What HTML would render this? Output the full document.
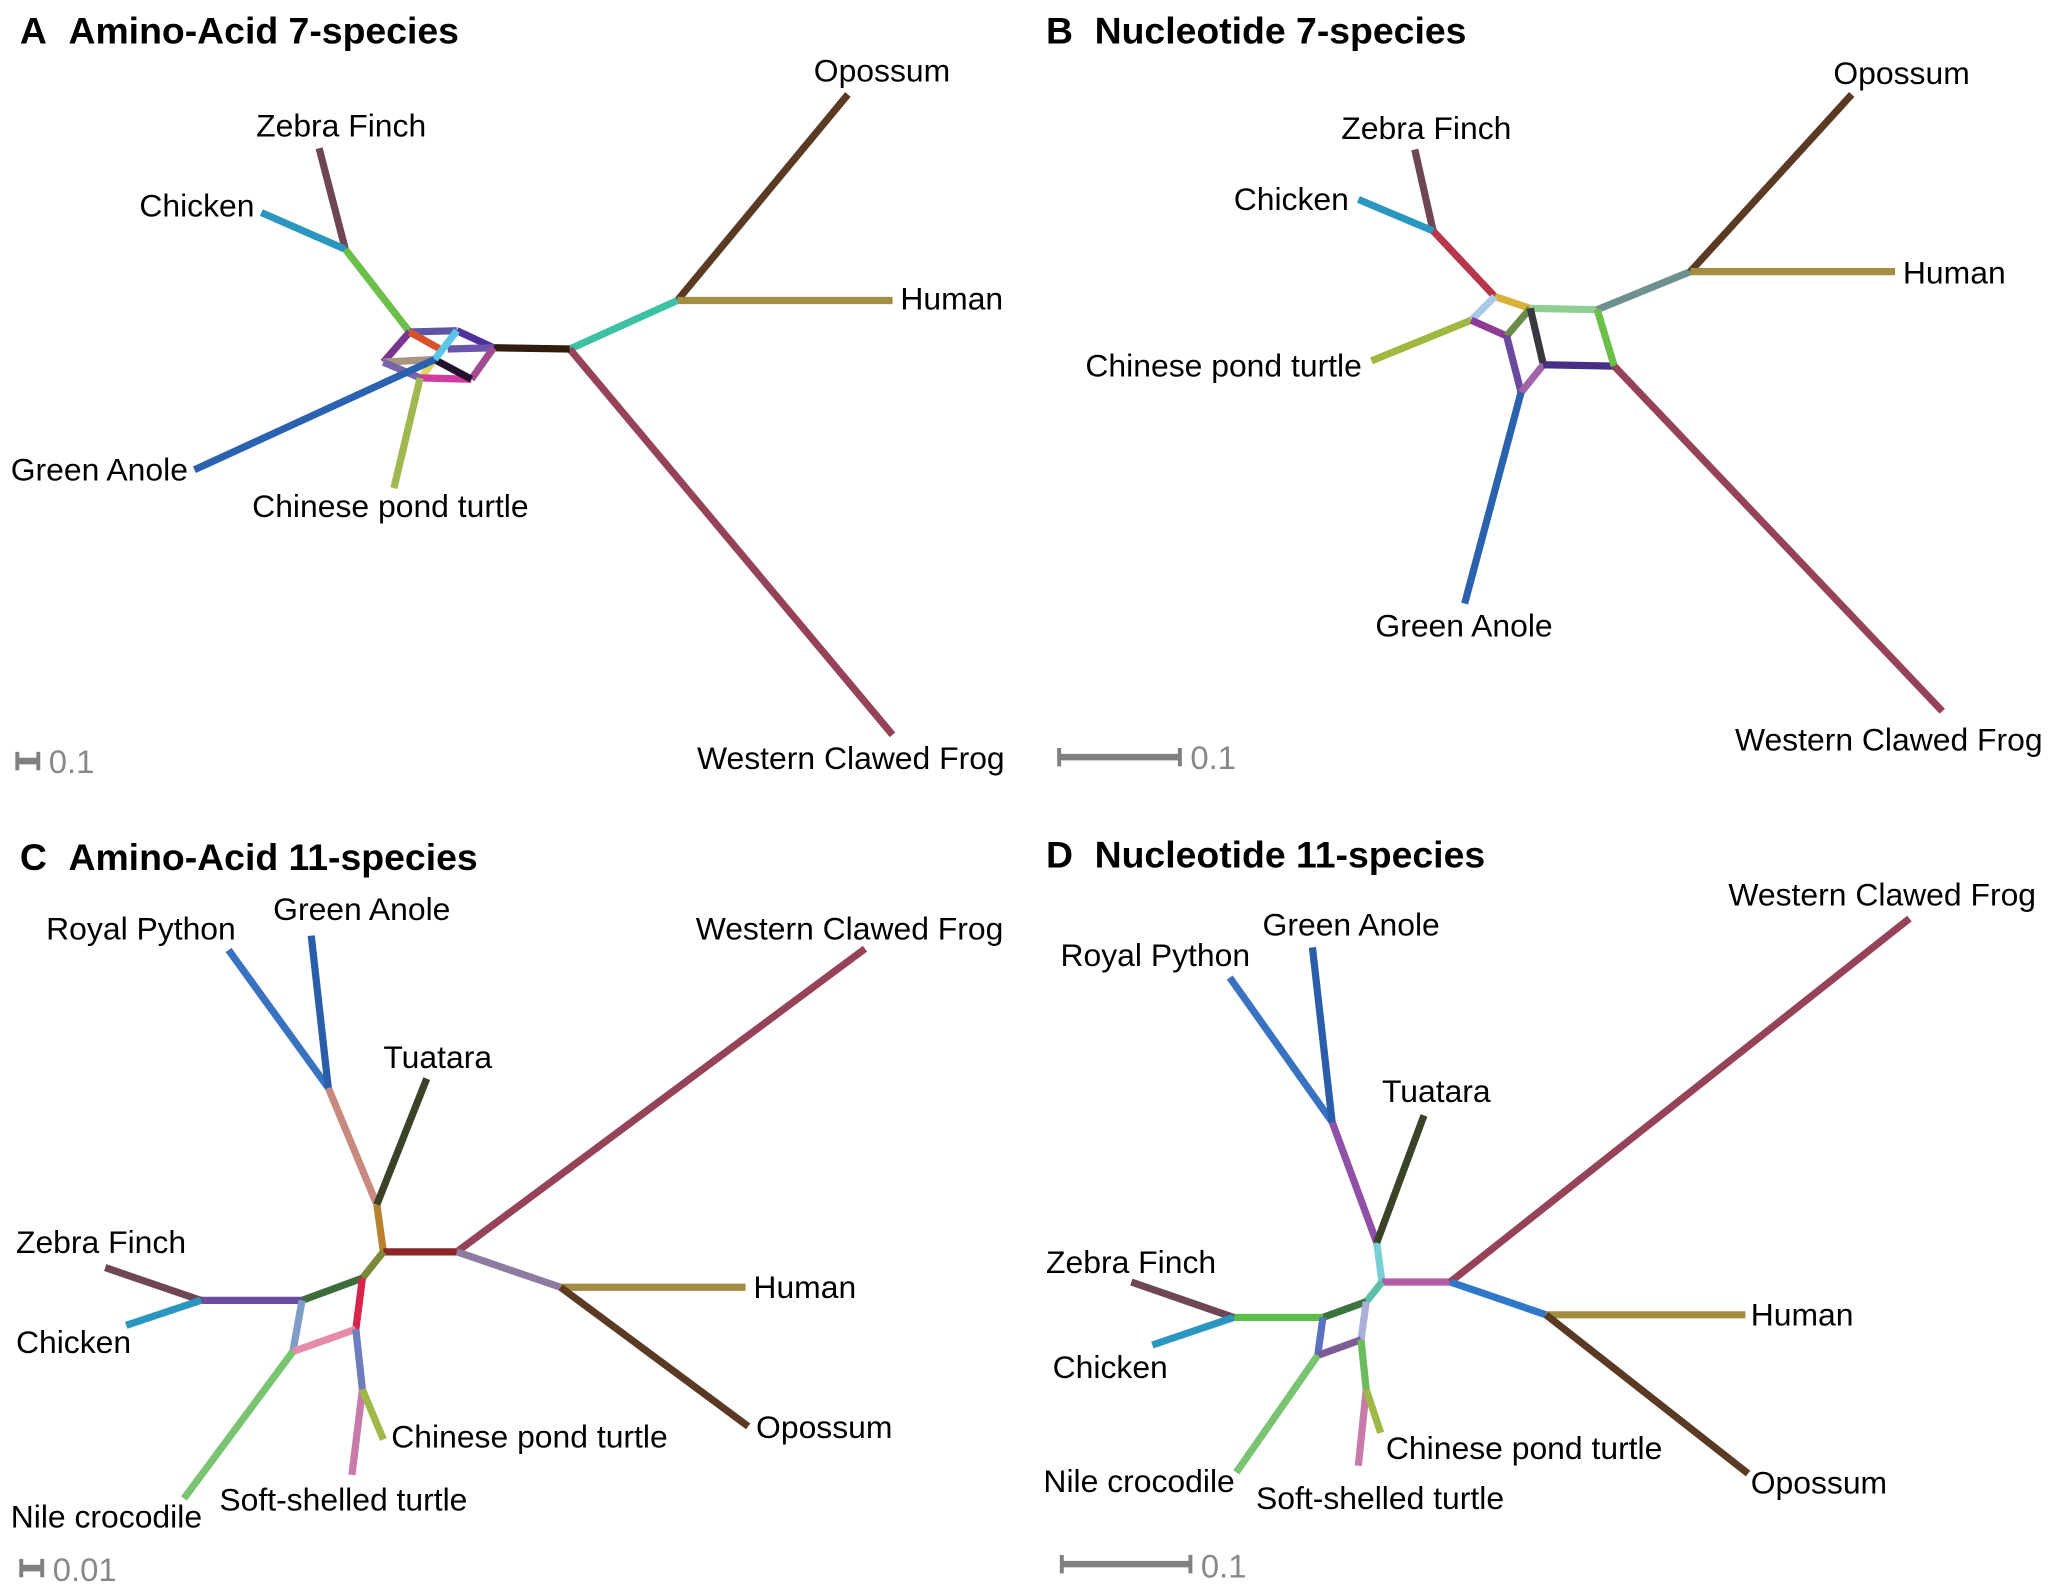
<!DOCTYPE html>
<html><head><meta charset="utf-8"><style>
html,body{margin:0;padding:0;background:#fff}
svg{display:block}
text{font-family:"Liberation Sans",Arial,sans-serif;fill:#000}
.t{font-weight:bold;font-size:28.5px}
.l{font-size:24.3px}
.s{font-size:25px;fill:#888}
</style></head><body>
<svg id="svg" width="2058" height="1593" viewBox="0 0 1568 1214" xmlns="http://www.w3.org/2000/svg">
<g id="edges"></g>
<g><text class="t" x="15" y="33">A</text><text class="t" x="52" y="33">Amino-Acid 7-species</text></g>
<g><text class="t" x="797" y="33">B</text><text class="t" x="834" y="33">Nucleotide 7-species</text></g>
<g><text class="t" x="15" y="663">C</text><text class="t" x="52" y="663">Amino-Acid 11-species</text></g>
<g><text class="t" x="797" y="661">D</text><text class="t" x="834" y="661">Nucleotide 11-species</text></g>
<g>
<text class="l" x="195" y="104">Zebra Finch</text><text class="l" x="106" y="165">Chicken</text>
<text class="l" x="620" y="62">Opossum</text><text class="l" x="686" y="236">Human</text>
<text class="l" x="8" y="366">Green Anole</text><text class="l" x="192" y="394">Chinese pond turtle</text>
<text class="l" x="531" y="586">Western Clawed Frog</text></g>
<g>
<text class="l" x="1022" y="106">Zebra Finch</text><text class="l" x="940" y="160">Chicken</text>
<text class="l" x="1397" y="64">Opossum</text><text class="l" x="1450" y="216">Human</text>
<text class="l" x="827" y="287">Chinese pond turtle</text><text class="l" x="1048" y="485">Green Anole</text>
<text class="l" x="1322" y="572">Western Clawed Frog</text></g>
<g>
<text class="l" x="35" y="716">Royal Python</text><text class="l" x="208" y="701">Green Anole</text>
<text class="l" x="292" y="814">Tuatara</text><text class="l" x="530" y="716">Western Clawed Frog</text>
<text class="l" x="12" y="955">Zebra Finch</text><text class="l" x="12" y="1031">Chicken</text>
<text class="l" x="574" y="989">Human</text><text class="l" x="298" y="1103">Chinese pond turtle</text>
<text class="l" x="576" y="1096">Opossum</text><text class="l" x="8" y="1164">Nile crocodile</text>
<text class="l" x="167" y="1151">Soft-shelled turtle</text></g>
<g>
<text class="l" x="962" y="713">Green Anole</text><text class="l" x="808" y="736">Royal Python</text>
<text class="l" x="1053" y="840">Tuatara</text><text class="l" x="1317" y="690">Western Clawed Frog</text>
<text class="l" x="797" y="970">Zebra Finch</text><text class="l" x="802" y="1050">Chicken</text>
<text class="l" x="1334" y="1010">Human</text><text class="l" x="1056" y="1112">Chinese pond turtle</text>
<text class="l" x="1334" y="1138">Opossum</text><text class="l" x="795" y="1137">Nile crocodile</text>
<text class="l" x="957" y="1150">Soft-shelled turtle</text></g>
<g stroke="#808080" stroke-width="5">
<line x1="13" y1="580" x2="29" y2="580"/><line x1="13" y1="573" x2="13" y2="587" stroke-width="3"/><line x1="29" y1="573" x2="29" y2="587" stroke-width="3"/>
<line x1="807" y1="577" x2="899" y2="577"/><line x1="807" y1="570" x2="807" y2="584" stroke-width="3"/><line x1="899" y1="570" x2="899" y2="584" stroke-width="3"/>
<line x1="16" y1="1195" x2="32" y2="1195"/><line x1="16" y1="1188" x2="16" y2="1202" stroke-width="3"/><line x1="32" y1="1188" x2="32" y2="1202" stroke-width="3"/>
<line x1="809" y1="1192" x2="907" y2="1192"/><line x1="809" y1="1185" x2="809" y2="1199" stroke-width="3"/><line x1="907" y1="1185" x2="907" y2="1199" stroke-width="3"/>
</g>
<text class="s" x="37" y="589">0.1</text>
<text class="s" x="907" y="586">0.1</text>
<text class="s" x="40" y="1205">0.01</text>
<text class="s" x="915" y="1202">0.1</text>
</svg>
<script>
const edgesA=[
[243,113,263,190,"#6e4655"],[199,162,263,190,"#2b97c0"],[263,190,312,253,"#6cc04a"],
[646,72,516,229,"#5a3a22"],[516,229,680,229,"#a38d42"],[434,266,516,229,"#3cc1a6"],[434,266,680,560,"#964358"],
[376,265,434,266,"#2f1d0d"],[312,253,348,252,"#5b56a8"],[348,252,376,265,"#50309a"],[341,266,376,265,"#6a55aa"],
[312,253,292,276,"#7a3590"],[312,253,337,267,"#d8512a"],[292,276,331,274,"#a89680"],[292,276,320,288,"#7765a8"],
[331,274,322,286,"#e0d860"],[320,288,359,289,"#d43ba0"],[376,265,359,289,"#a04a90"],[331,274,359,289,"#24102a"],
[348,252,331,274,"#5bc7e6"],[148,358,331,274,"#2a62b0"],[320,288,300,372,"#a0b850"]];
const edgesB=[
[1078,114,1092,176,"#6e4655"],[1035,152,1092,176,"#2b97c0"],[1092,176,1139,226,"#b8374d"],
[1139,226,1166,235,"#d9b13a"],[1166,235,1217,236,"#8ece93"],[1217,236,1288,207,"#6e9190"],
[1411,72,1288,207,"#5a3a22"],[1288,207,1444,207,"#a38d42"],[1139,226,1121,244,"#a8c8e8"],
[1045,275,1121,244,"#a0b840"],[1121,244,1148,256,"#8e3b98"],[1148,256,1166,235,"#6a8c48"],
[1166,235,1176,278,"#38383e"],[1148,256,1159,299,"#6a4aa0"],[1159,299,1176,278,"#a064a8"],
[1176,278,1230,279,"#462f84"],[1217,236,1230,279,"#6cc04a"],[1230,279,1480,542,"#964358"],[1159,299,1116,460,"#2a62b0"]];
const edgesC=[
[287,918,292,954,"#b9812e"],[292,954,348,954,"#8a2528"],[292,954,276,974,"#7a8a3a"],[276,974,230,991,"#3c6c3a"],
[230,991,153,991,"#6a4ca0"],[276,974,271,1013,"#d8234a"],[230,991,223,1030,"#7e9cc6"],[223,1030,271,1013,"#e68caa"],
[271,1013,276,1059,"#6e7cc0"],[276,1059,268,1124,"#c87aa8"],[276,1059,292,1097,"#a0b848"],[223,1030,140,1142,"#78c470"],
[80,966,153,991,"#6e4655"],[96,1010,153,991,"#2b97c0"],[287,918,250,829,"#c88a80"],[174,724,250,829,"#3872c0"],
[237,713,250,829,"#2a5eaa"],[325,822,287,918,"#3a4228"],[348,954,659,723,"#964358"],[348,954,427,981,"#8c7ca0"],
[427,981,568,981,"#a38d42"],[427,981,570,1087,"#5a3a22"]];
const edgesD=[
[1049,947,1053,977,"#7acfd6"],[1053,977,1105,977,"#b05ca6"],[1053,977,1041,992,"#5cc0a8"],[1041,992,1008,1004,"#3c7440"],
[1008,1004,940,1004,"#5cbc4c"],[1041,992,1037,1021,"#aab0da"],[1008,1004,1004,1033,"#5a72c0"],[1004,1033,1037,1021,"#7c5c94"],
[1037,1021,1041,1059,"#6abc5c"],[1041,1059,1035,1117,"#c87aa8"],[1041,1059,1052,1092,"#a0b848"],[1004,1033,942,1122,"#78c470"],
[862,977,940,1004,"#6e4655"],[878,1025,940,1004,"#2b97c0"],[1049,947,1015,855,"#9050a8"],[937,745,1015,855,"#3872c0"],
[1000,722,1015,855,"#2a5eaa"],[1085,850,1049,947,"#3a4228"],[1105,977,1455,700,"#964358"],[1105,977,1178,1002,"#2f78c8"],
[1178,1002,1330,1002,"#a38d42"],[1178,1002,1332,1123,"#5a3a22"]];
const g=document.getElementById('edges');
const NS="http://www.w3.org/2000/svg";
[["a",edgesA],["b",edgesB],["c",edgesC],["d",edgesD]].forEach(([p,arr])=>{
  arr.forEach((e,i)=>{
    const l=document.createElementNS(NS,'line');
    l.setAttribute('x1',e[0]);l.setAttribute('y1',e[1]);l.setAttribute('x2',e[2]);l.setAttribute('y2',e[3]);
    l.setAttribute('stroke',e[4]);l.setAttribute('stroke-width','5.5');l.setAttribute('stroke-linecap','butt');
    
    
    g.appendChild(l);
  });
});
</script>
</body></html>
